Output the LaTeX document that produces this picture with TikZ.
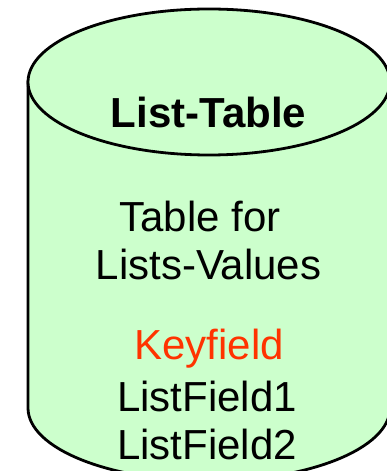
\documentclass[tikz,border=0pt]{standalone}
\usepackage{fontspec}
\setmainfont{Liberation Sans}
\definecolor{cylgreen}{HTML}{CCFFCC}
\definecolor{keyred}{HTML}{FF3300}
\begin{document}
\begin{tikzpicture}[x=1pt,y=1pt,
  txt/.style={anchor=base,inner sep=0pt,font=\fontsize{42}{48}\selectfont},
  cyl/.style={fill=cylgreen,draw=black,line width=2.8pt}]
\useasboundingbox (0,0) rectangle (387,471);
\clip (0,0) rectangle (387,471);
% body
\path[cyl] (28,389) -- (28,63) arc[start angle=180,end angle=360,x radius=181,y radius=73] -- (390,389) -- cycle;
% top
\path[cyl] (209,389) ellipse [x radius=181,y radius=73];
\node[txt,font=\fontsize{42}{48}\selectfont\bfseries] (title) at (208.5,343) {List-Table};
\node[txt] (l1) at (200,239) {Table for};
\node[txt] (l2) at (208.5,191) {Lists-Values};
\node[txt,text=keyred] (key) at (209,111) {Keyfield};
\node[txt] (f1) at (207,59) {ListField1};
\node[txt] (f2) at (207,11) {ListField2};
\end{tikzpicture}
\end{document}
